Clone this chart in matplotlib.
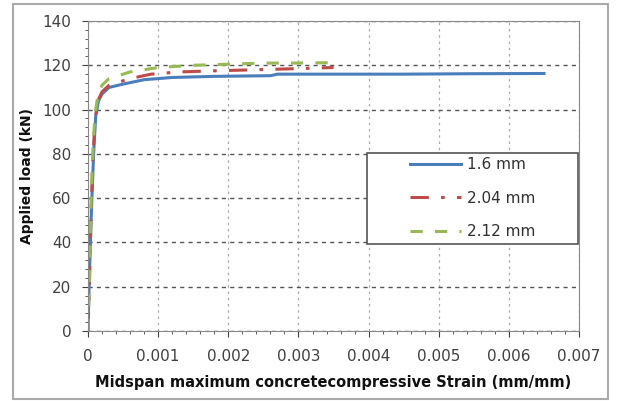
import numpy as np
import matplotlib
matplotlib.use("Agg")
import matplotlib.pyplot as plt
from matplotlib.ticker import MultipleLocator

# strain (mm/mm) vs load (kN)
strain_16 = [0, 0.00002, 0.00005, 0.00008, 0.00011, 0.00015, 0.0002, 0.0003, 0.0005, 0.0008,
             0.0012, 0.0018, 0.0026, 0.0027, 0.0035, 0.0045, 0.0055, 0.0065]
load_16 = [0, 25, 55, 80, 97, 104, 107, 110, 111.5, 113.5,
           114.5, 115, 115.3, 116, 116, 116, 116.2, 116.3]

strain_204 = [0, 0.00002, 0.00004, 0.00007, 0.0001, 0.00014, 0.0002, 0.0003, 0.0006, 0.0009,
              0.0013, 0.0018, 0.0024, 0.003, 0.0035]
load_204 = [0, 20, 50, 78, 95, 104, 108, 111, 114, 116,
            117, 117.5, 118, 118.5, 119]

strain_212 = [0, 0.00002, 0.00004, 0.00007, 0.0001, 0.00014, 0.0002, 0.0003, 0.0006, 0.001,
              0.0015, 0.002, 0.0025, 0.003, 0.0035]
load_212 = [0, 22, 55, 82, 98, 106, 111, 114, 117, 119,
            120, 120.5, 121, 121, 121.2]

xtick_vals = [0, 0.001, 0.002, 0.003, 0.004, 0.005, 0.006, 0.007]
xtick_labels = ["0", "0.001", "0.002", "0.003", "0.004", "0.005", "0.006", "0.007"]

fig = plt.figure(figsize=(6.17, 4.01), dpi=100)
ax = fig.add_axes([0.1426, 0.1746, 0.796, 0.773])

ax.plot(strain_16, load_16, color="#4a7ebb", lw=2.2, label="1.6 mm")
ax.plot(strain_204, load_204, color="#be4b48", lw=2.2, dashes=(6, 4, 1.2, 4), label="2.04 mm")
ax.plot(strain_212, load_212, color="#98b954", lw=2.2, dashes=(4, 4), label="2.12 mm")

ax.set_xlim(0, 0.007)
ax.set_ylim(0, 140)
ax.set_xticks(xtick_vals)
ax.set_xticklabels(xtick_labels)
ax.xaxis.set_minor_locator(MultipleLocator(0.0002))
ax.yaxis.set_major_locator(MultipleLocator(20))
ax.yaxis.set_minor_locator(MultipleLocator(4))

ax.tick_params(which="both", direction="out", labelsize=11, colors="#404040")
ax.tick_params(which="major", length=4)
ax.tick_params(which="minor", length=2.5)
ax.tick_params(axis="x", pad=9)
ax.tick_params(axis="y", pad=8)

ax.grid(axis="y", which="major", linestyle=(0, (3, 3)), color="#555555", lw=1)
ax.grid(axis="x", which="major", linestyle=(0, (2, 3)), color="#aaaaaa", lw=0.9)

for s in ax.spines.values():
    s.set_color("#888888")

ax.set_xlabel("Midspan maximum concretecompressive Strain (mm/mm)", fontweight="bold",
              fontsize=10.5, labelpad=8, color="#111111")
ax.set_ylabel("Applied load (kN)", fontweight="bold", fontsize=10, labelpad=6, color="#111111")

# legend frame drawn separately so the entries can sit well inside it
ax.add_patch(plt.Rectangle((0.568, 0.281), 0.43, 0.293, transform=ax.transAxes,
                           facecolor="white", edgecolor="#555555", lw=1.2, zorder=5))
leg = ax.legend(loc="upper left", bbox_to_anchor=(0.656, 0.56), frameon=False,
                fontsize=11, handlelength=3.3, handletextpad=0.4, labelspacing=1.2,
                borderpad=0, borderaxespad=0)
leg.set_zorder(6)
for t in leg.get_texts():
    t.set_color("#303030")

fig.patches.append(plt.Rectangle((0.021, 0.005), 0.965, 0.985, transform=fig.transFigure,
                                 fill=False, edgecolor="#aaaaaa", lw=1.5))

fig.savefig("out.png", dpi=100)
